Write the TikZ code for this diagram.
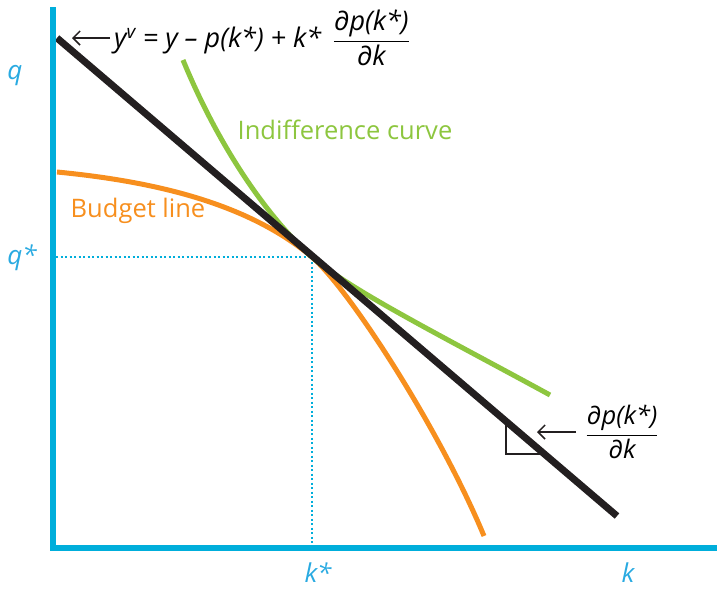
\documentclass[tikz,border=0pt]{standalone}
\usepackage{fontspec}
\setmainfont{Open Sans}
\usepackage{amsmath}
\usepackage{xcolor}
\definecolor{AxisCyan}{RGB}{0,174,219}
\definecolor{LabelCyan}{RGB}{41,170,225}
\definecolor{BudgetOrange}{RGB}{247,143,30}
\definecolor{CurveGreen}{RGB}{141,198,63}
\definecolor{LineBlack}{RGB}{35,31,32}
\usetikzlibrary{arrows.meta}

\begin{document}
\begin{tikzpicture}[x=1pt,y=-1pt,font=\fontsize{25.5}{30}\selectfont,
  axislabel/.style={text=LabelCyan,inner sep=0pt,font=\fontsize{26}{30}\selectfont\itshape},
  pointer/.style={-{Straight Barb[length=7pt,width=14pt]},line width=1.5pt,draw=LineBlack}]
  \useasboundingbox (0,0) rectangle (717,592);
  % guide lines to the optimum
  \draw[AxisCyan,line width=2pt,dash pattern=on 2pt off 2.5pt] (56,257) -- (312,257) -- (312,546);
  % budget line and indifference curve
  \draw[BudgetOrange,line width=5pt] (57,172) .. controls (160,182) and (250,205) .. (312,257)
    .. controls (350,290) and (440,430) .. (484,536);
  \draw[CurveGreen,line width=5pt] (183,60) .. controls (220,150) and (270,220) .. (312,257)
    .. controls (350,290) and (440,335) .. (550,395);
  % slope triangle and tangent
  \draw[LineBlack,line width=1.6pt] (506,421) -- (506,454) -- (544,454);
  \draw[LineBlack,line width=7pt] (57,38) -- (617,516);
  % axes
  \draw[AxisCyan,line width=6pt] (53,7) -- (53,551);
  \draw[AxisCyan,line width=6pt] (50,548) -- (717,548);
  \node[axislabel] (q) at (15,76) {q};
  \node[axislabel] (qstar) at (22,258) {q*};
  \node[axislabel] (kstar) at (318,573) {k*};
  \node[axislabel] (k) at (628,573) {k};
  \node[CurveGreen] (indiff) at (345,130) {Indifference curve};
  \node[BudgetOrange] (budget) at (138,211) {Budget line};
  % formula and slope labels
  \node[anchor=west,inner sep=4pt,font=\fontsize{27}{30}\selectfont\itshape] (formula) at (110,38)
    {y\textsuperscript{v} = y -- p(k*) + k*\, $\dfrac{\text{\itshape ∂p(k*)}}{\text{\itshape ∂k}}$};
  \coordinate (toptip) at (72,38);
  \draw[pointer] (formula.west) -- (toptip);
  \node[font=\fontsize{25.5}{30}\selectfont\itshape] (slope) at (622,432)
    {$\dfrac{\text{\itshape ∂p(k*)}}{\text{\itshape ∂k}}$};
  \coordinate (slopetip) at (537,432);
  \draw[pointer] ([xshift=-6pt]slope.west) -- (slopetip);
\end{tikzpicture}
\end{document}
